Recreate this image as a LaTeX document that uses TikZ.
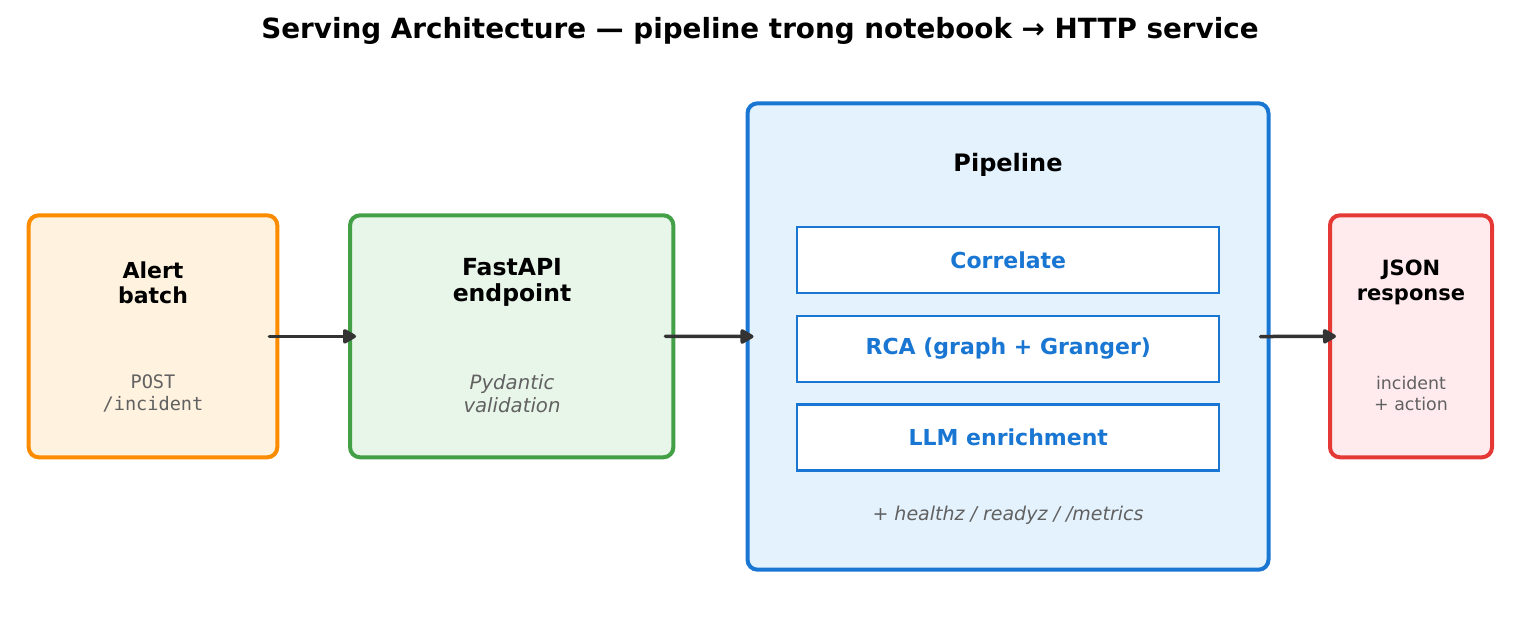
\documentclass[tikz,border=0pt]{standalone}
\usepackage{fontspec}
\setmainfont{DejaVu Sans}
\setmonofont{DejaVu Sans Mono}
\usetikzlibrary{arrows.meta,positioning}
\definecolor{svorange}{HTML}{FB8C00}
\definecolor{svorangebg}{HTML}{FFF3E0}
\definecolor{svgreen}{HTML}{43A047}
\definecolor{svgreenbg}{HTML}{E8F5E9}
\definecolor{svblue}{HTML}{1976D2}
\definecolor{svbluebg}{HTML}{E3F2FD}
\definecolor{svred}{HTML}{E53935}
\definecolor{svredbg}{HTML}{FFEBEE}
\definecolor{svdark}{HTML}{333333}
\definecolor{svgrey}{HTML}{616161}

\begin{document}
\begin{tikzpicture}[
  x=1pt, y=-1pt,
  node distance=20.5pt,
  card/.style={line width=4pt, rounded corners=10pt, inner sep=0pt,
               minimum height=242pt},
  stage/.style={draw=svblue, line width=2.2pt, fill=white, inner sep=0pt,
                minimum width=422pt, minimum height=66pt,
                font=\fontsize{22}{26}\selectfont\bfseries, text=svblue},
  head/.style={font=\fontsize{22}{25}\selectfont\bfseries, align=center, text=black},
  sub/.style={font=\fontsize{19}{22.5}\selectfont, align=center, text=svgrey},
  arrow/.style={-{Triangle[length=15pt,width=16pt,round]}, svdark,
                line width=3.5pt, line cap=round, shorten <=-10pt, shorten >=-8pt},
]
\useasboundingbox (0,0) rectangle (1520,630);

%% ---- Titel ----
\node[font=\fontsize{27.8}{32}\selectfont\bfseries] (title) at (760,30.5)
  {Serving Architecture — pipeline trong notebook → HTTP service};

%% ---- Boxen ----
\node[card, draw=svorange, fill=svorangebg, minimum width=248.6pt] (alert) at (153,336.3) {};
\node[card, draw=svgreen, fill=svgreenbg, minimum width=323.3pt] (api) at (511.7,336.3) {};
\node[card, draw=svblue, fill=svbluebg, minimum width=521pt,
      minimum height=466.4pt] (pipe) at (1008,336.5) {};
\node[card, draw=svred, fill=svredbg, minimum width=162pt] (json) at (1411,336.3) {};

%% ---- Texte in den Boxen ----
\node[head] (alerthead) at (153,282.5) {Alert\\batch};
\node[sub, font=\fontsize{18.6}{22}\selectfont\ttfamily] (alertsub) at (153,393.5) {POST\\/incident};

\node[head, font=\fontsize{23.5}{26.5}\selectfont\bfseries] (apihead) at (512,282.5) {FastAPI\\endpoint};
\node[sub, font=\fontsize{19.7}{22.5}\selectfont\itshape] (apisub) at (512,393.5) {Pydantic\\validation};

\node[head, font=\fontsize{21}{24.5}\selectfont\bfseries] (jsonhead) at (1411,282.5) {JSON\\response};
\node[sub, font=\fontsize{17.4}{21}\selectfont] (jsonsub) at (1411,393.5) {incident\\+ action};

%% ---- Pipeline-Stufen ----
\node[head, font=\fontsize{24}{28}\selectfont\bfseries] (pipehead) at (1008,164.5) {Pipeline};
\node[stage] (corr) at (1008.3,260) {Correlate};
\node[stage, below=of corr] (rca) {RCA (graph + Granger)};
\node[stage, below=of rca] (llm) {LLM enrichment};
\node[sub, font=\fontsize{19}{22}\selectfont\itshape] (health) at (1008,515.5)
  {+ healthz / readyz / /metrics};

%% ---- Pfeile ----
\draw[arrow] (alert.east) -- (api.west);
\draw[arrow] (api.east) -- (pipe.west);
\draw[arrow] (pipe.east) -- (json.west);

\end{tikzpicture}
\end{document}
